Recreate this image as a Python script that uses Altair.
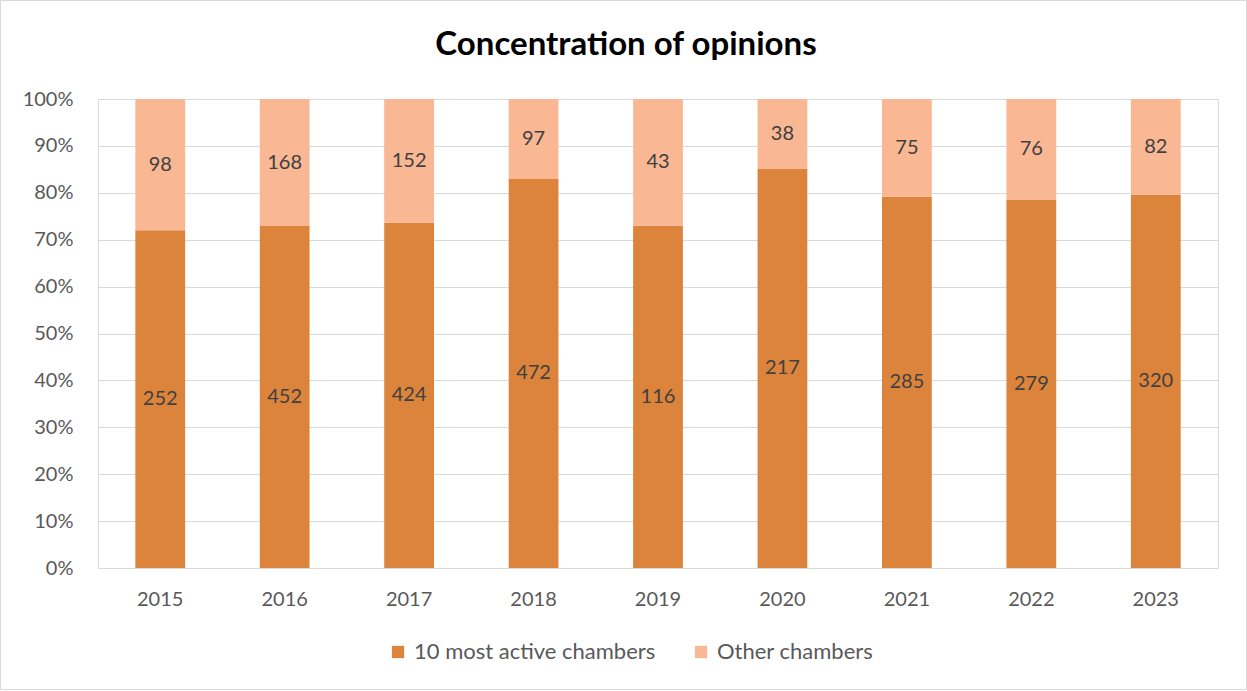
import altair as alt
import pandas as pd

years = ["2015", "2016", "2017", "2018", "2019", "2020", "2021", "2022", "2023"]
most_active = [252, 452, 424, 472, 116, 217, 285, 279, 320]
other = [98, 168, 152, 97, 43, 38, 75, 76, 82]
series = ["10 most active chambers", "Other chambers"]
colors = ["#DD843C", "#F9B793"]
title_text = ["Concentration of opinions"]

rows = []
for i, y in enumerate(years):
    rows.append({"year": y, "series": series[0], "value": most_active[i], "order": 0})
    rows.append({"year": y, "series": series[1], "value": other[i], "order": 1})
df = pd.DataFrame(rows)

FONT = "Lato"
W, H = 1120, 469

base = alt.Chart(df).transform_stack(
    stack="value", groupby=["year"], as_=["y0", "y1"], offset="normalize",
    sort=[alt.SortField("order", order="ascending")]
).transform_calculate(mid="(datum.y0 + datum.y1) / 2")

xenc = alt.X("year:N", title=None, sort=years,
             scale=alt.Scale(paddingInner=0.6, paddingOuter=0.3),
             axis=alt.Axis(labelAngle=0, labelFontSize=20, labelColor="#595959", labelFont=FONT,
                           labelPadding=21, ticks=False, domainColor="#D9D9D9", grid=False))

bars = base.mark_bar().encode(
    x=xenc,
    y=alt.Y("y0:Q", title=None, scale=alt.Scale(domain=[0, 1], nice=False),
            axis=alt.Axis(format="%", values=[i / 10 for i in range(11)], labelFontSize=20,
                          labelColor="#595959", labelFont=FONT, labelPadding=25, ticks=False,
                          domain=False, gridColor="#D9D9D9", gridWidth=1)),
    y2="y1:Q",
    color=alt.Color("series:N", sort=series,
                    scale=alt.Scale(domain=series, range=colors),
                    legend=alt.Legend(title=None, orient="none", direction="horizontal",
                                      legendX=289, legendY=542, symbolType="square",
                                      symbolSize=150, symbolStrokeWidth=0,
                                      labelFontSize=22, labelColor="#595959", labelFont=FONT,
                                      labelLimit=0, columnPadding=34, symbolOffset=0,
                                      labelOffset=5)),
)

labels = base.mark_text(fontSize=20, color="#404040", font=FONT).encode(
    x=alt.X("year:N", sort=years),
    y=alt.Y("mid:Q"),
    text="value:Q",
)

border = alt.Chart(pd.DataFrame({"a": [0]})).mark_rect(
    fill=None, stroke="#D9D9D9", strokeWidth=1, clip=False
).encode(x=alt.value(-97.5), x2=alt.value(W + 28.5), y=alt.value(-98.5), y2=alt.value(H + 121.5))

title = alt.Chart(pd.DataFrame({"t": title_text})).mark_text(
    fontSize=33, font=FONT, fontWeight="bold", color="#000000", baseline="middle", align="center"
).encode(x=alt.value(528), y=alt.value(-54), text="t:N")

chart = alt.layer(border, bars, labels, title).properties(
    width=W, height=H,
    autosize=alt.AutoSizeParams(type="none"),
    padding={"left": 98, "top": 99, "right": 29, "bottom": 123},
).configure_view(stroke=None).configure(background="white")

chart.save("out.html", embed_options={"renderer": "svg", "actions": False})
